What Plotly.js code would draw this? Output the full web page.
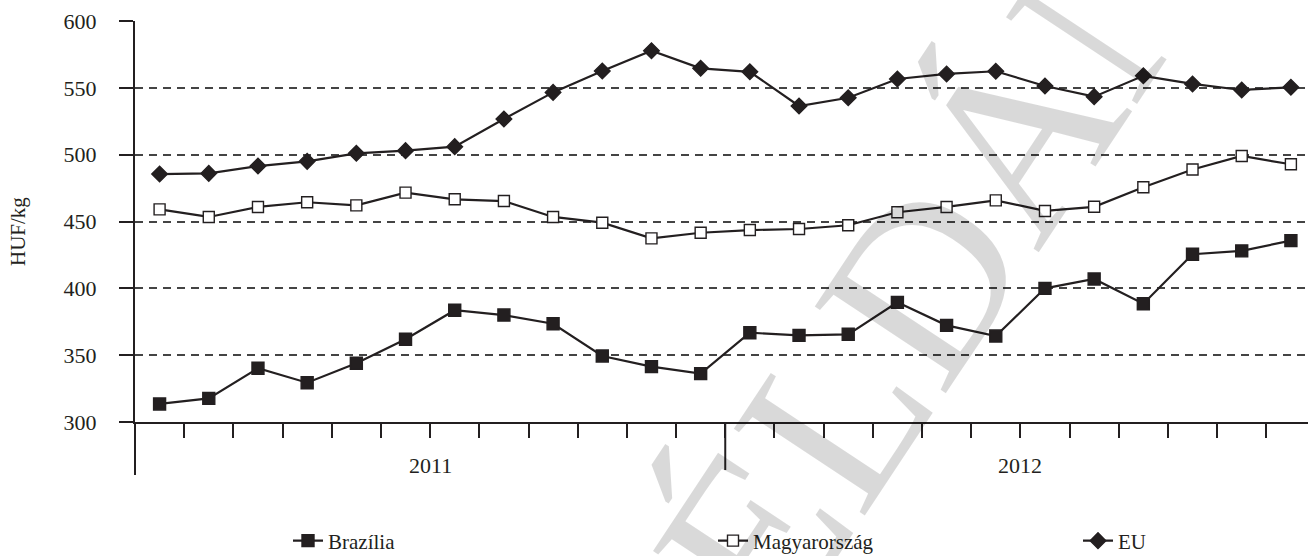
<!DOCTYPE html>
<html>
<head>
<meta charset="utf-8">
<script src="https://cdn.plot.ly/plotly-3.0.1.min.js"></script>
<style>
  html, body { margin: 0; padding: 0; background: #ffffff; }
  #chart { width: 1308px; height: 556px; }
</style>
</head>
<body>
<div id="chart"></div>
<script>
// ---- data ----
const months = ['2011-01','2011-02','2011-03','2011-04','2011-05','2011-06',
                '2011-07','2011-08','2011-09','2011-10','2011-11','2011-12',
                '2012-01','2012-02','2012-03','2012-04','2012-05','2012-06',
                '2012-07','2012-08','2012-09','2012-10','2012-11','2012-12'];
const years = ['2011', '2012'];
const monthsPerYear = 12;

const brazilia = [313.5, 317.7, 340.2, 329.4, 343.9, 361.9, 383.6, 380.0, 373.5, 349.4, 341.4, 336.2,
                  366.8, 364.8, 365.6, 389.5, 372.3, 364.3, 400.0, 407.0, 388.5, 425.5, 428.0, 435.7];
const magyarorszag = [459.1, 453.4, 460.9, 464.4, 462.1, 471.6, 466.6, 465.3, 453.4, 449.1, 437.4, 441.6,
                      443.6, 444.4, 447.2, 456.9, 460.9, 465.8, 457.9, 461.0, 475.6, 488.9, 499.0, 492.8];
const eu = [485.5, 486.0, 491.5, 495.0, 501.0, 503.0, 506.0, 526.7, 546.6, 562.6, 577.8, 564.6,
            562.0, 536.4, 542.6, 556.6, 560.4, 562.4, 551.4, 543.4, 559.0, 552.9, 548.4, 550.4];

const seriesNames = ['Brazília', 'Magyarország', 'EU'];
const yTicks = [300, 350, 400, 450, 500, 550, 600];
const yTitle = 'HUF/kg';
const watermark = 'PÉLDÁNY';

// ---- build ----
const ink = '#231f20';
const serif = 'Liberation Serif, Times New Roman, serif';
const xIdx = months.map((_, i) => i);
const betweenTicks = months.slice(1).map((_, i) => i + 0.5);

function trace(name, y, symbol, fill, size, legendId) {
  return {
    type: 'scatter', mode: 'lines+markers', name: name, x: xIdx, y: y,
    legend: legendId,
    line: { color: ink, width: 2.2 },
    marker: { symbol: symbol, size: size, color: fill, line: { color: ink, width: 1.4 } },
    cliponaxis: false
  };
}

const data = [
  trace(seriesNames[0], brazilia, 'square', ink, 12, 'legend'),
  trace(seriesNames[1], magyarorszag, 'square', '#ffffff', 11, 'legend2'),
  trace(seriesNames[2], eu, 'diamond', ink, 12, 'legend3')
];

const W = 1308, H = 556, L = 135, T = 21, B = 134;
const plotW = W - L, plotH = H - T - B;
const px2x = px => (px - L) / plotW;
const px2y = py => (H - B - py) / plotH;

const legendBase = {
  orientation: 'h', yanchor: 'middle', xanchor: 'left',
  y: px2y(541), bgcolor: 'rgba(0,0,0,0)', borderwidth: 0,
  font: { family: serif, size: 21, color: ink }
};

const annotations = years.map((yr, i) => ({
  xref: 'x', yref: 'paper', x: i * monthsPerYear + (monthsPerYear - 1) / 2,
  y: px2y(465), text: yr, showarrow: false,
  xanchor: 'center', yanchor: 'middle',
  font: { family: serif, size: 22, color: ink }
}));
annotations.push({
  xref: 'paper', yref: 'paper', x: px2x(18), y: px2y(232), text: yTitle,
  textangle: -90, showarrow: false, xanchor: 'center', yanchor: 'middle',
  font: { family: serif, size: 21, color: ink }
});
annotations.push({
  xref: 'paper', yref: 'paper', x: px2x(948), y: px2y(243), text: watermark,
  textangle: -56.5, showarrow: false, xanchor: 'center', yanchor: 'middle',
  font: { family: serif, size: 240, color: 'rgba(0,0,0,0.15)' }
});

const shapes = [
  // y-axis line continuing below the category axis
  { type: 'line', xref: 'paper', yref: 'paper', x0: 0, x1: 0, y0: 0, y1: px2y(475),
    line: { color: ink, width: 2 } }
];
// year separators
years.slice(1).forEach((_, i) => {
  shapes.push({ type: 'line', xref: 'x', yref: 'paper',
    x0: (i + 1) * monthsPerYear - 0.5, x1: (i + 1) * monthsPerYear - 0.5,
    y0: 0, y1: px2y(470), line: { color: ink, width: 2 } });
});

const layout = {
  width: W, height: H,
  margin: { l: L, r: 0, t: T, b: B, pad: 0, autoexpand: false },
  paper_bgcolor: '#ffffff', plot_bgcolor: 'rgba(0,0,0,0)',
  font: { family: serif, color: ink },
  showlegend: true,
  legend: Object.assign({}, legendBase, { x: px2x(288) }),
  legend2: Object.assign({}, legendBase, { x: px2x(713) }),
  legend3: Object.assign({}, legendBase, { x: px2x(1078) }),
  xaxis: {
    range: [-0.5, (W - 160) / 49.17],
    tickmode: 'array', tickvals: betweenTicks, showticklabels: false,
    ticks: 'outside', ticklen: 14, tickwidth: 2, tickcolor: ink,
    showgrid: false, zeroline: false,
    showline: true, linecolor: ink, linewidth: 2
  },
  yaxis: {
    range: [300, 600], tickmode: 'array', tickvals: yTicks,
    ticks: 'outside', ticklen: 14, tickwidth: 2, tickcolor: ink,
    ticklabelstandoff: 18,
    tickfont: { family: serif, size: 22, color: ink },
    showgrid: true, gridcolor: '#444444', gridwidth: 2, griddash: '8px,6px',
    zeroline: false, showline: true, linecolor: ink, linewidth: 2
  },
  shapes: shapes,
  annotations: annotations
};

Plotly.newPlot('chart', data, layout, { displayModeBar: false, staticPlot: true });
</script>
</body>
</html>
